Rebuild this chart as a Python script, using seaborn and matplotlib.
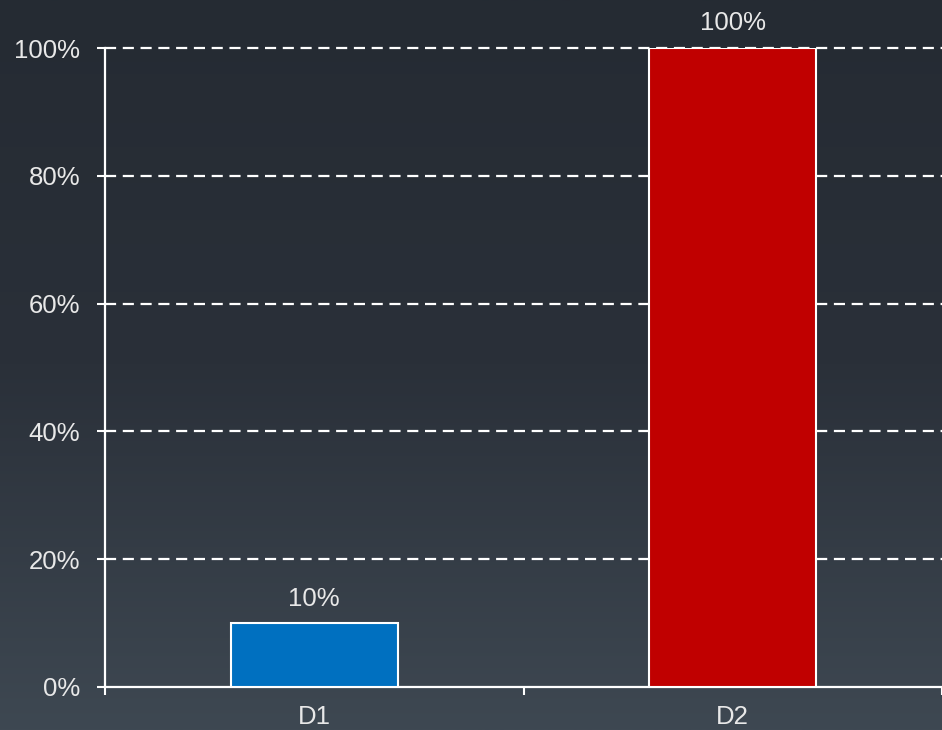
import numpy as np
import pandas as pd
import matplotlib.pyplot as plt
import seaborn as sns
from matplotlib.colors import LinearSegmentedColormap
from matplotlib.ticker import PercentFormatter

# data
categories = ["D1", "D2"]
values = [10, 100]
bar_colors = ["#0070c0", "#c00000"]
y_ticks = [0, 20, 40, 60, 80, 100]

df = pd.DataFrame({"cat": categories, "val": values})

sns.set_style("dark")
plt.rcParams['font.family'] = ['Liberation Sans', 'DejaVu Sans']
txt_color = "#e8e8e8"

fig = plt.figure(figsize=(9.42, 7.3), dpi=100)

# gradient background
bg = fig.add_axes([0, 0, 1, 1], zorder=-10)
cmap = LinearSegmentedColormap.from_list("bg", ["#252b33", "#2a3039", "#3e4852"])
grad = np.linspace(0, 1, 256).reshape(-1, 1)
bg.imshow(grad, aspect="auto", cmap=cmap, extent=[0, 1, 0, 1], origin="upper")
bg.axis("off")

ax = fig.add_axes([105 / 942, 1 - 687 / 730, 1 - 105 / 942, (687 - 48) / 730])
ax.patch.set_alpha(0)

sns.barplot(data=df, x="cat", y="val", hue="cat", palette=bar_colors, legend=False,
            saturation=1, width=0.4, edgecolor="white", linewidth=1.5, ax=ax, zorder=3)

for c in ax.containers:
    ax.bar_label(c, labels=[f"{v:g}%" for v in c.datavalues], padding=9,
                 color=txt_color, fontsize=18.5)

ax.set_xlim(-0.5, 1.5)
ax.set_ylim(0, 100)
ax.set_yticks(y_ticks)
ax.yaxis.set_major_formatter(PercentFormatter(100, decimals=0))

# dashed grid
for t in y_ticks[1:]:
    ax.axhline(t, color="white", lw=1.6, ls=(0, (5, 3)), zorder=1, clip_on=False)

# ticks at category boundaries, labels at centers
ax.set_xticks([-0.5, 0.5, 1.5], minor=True)
ax.tick_params(axis="x", which="major", length=0, pad=13, labelsize=18.5, colors=txt_color)
ax.tick_params(axis="x", which="minor", length=6, width=1.5, color="white",
               direction="out", bottom=True)
ax.tick_params(axis="y", length=6, width=1.5, color="white", pad=12, labelsize=18.5,
               labelcolor=txt_color, left=True)

ax.set_xlabel("")
ax.set_ylabel("")
ax.grid(False)
for s in ["top", "right"]:
    ax.spines[s].set_visible(False)
for s in ["left", "bottom"]:
    ax.spines[s].set_color("white")
    ax.spines[s].set_linewidth(1.6)
    ax.spines[s].set_visible(True)

fig.savefig("out.png", dpi=100)
